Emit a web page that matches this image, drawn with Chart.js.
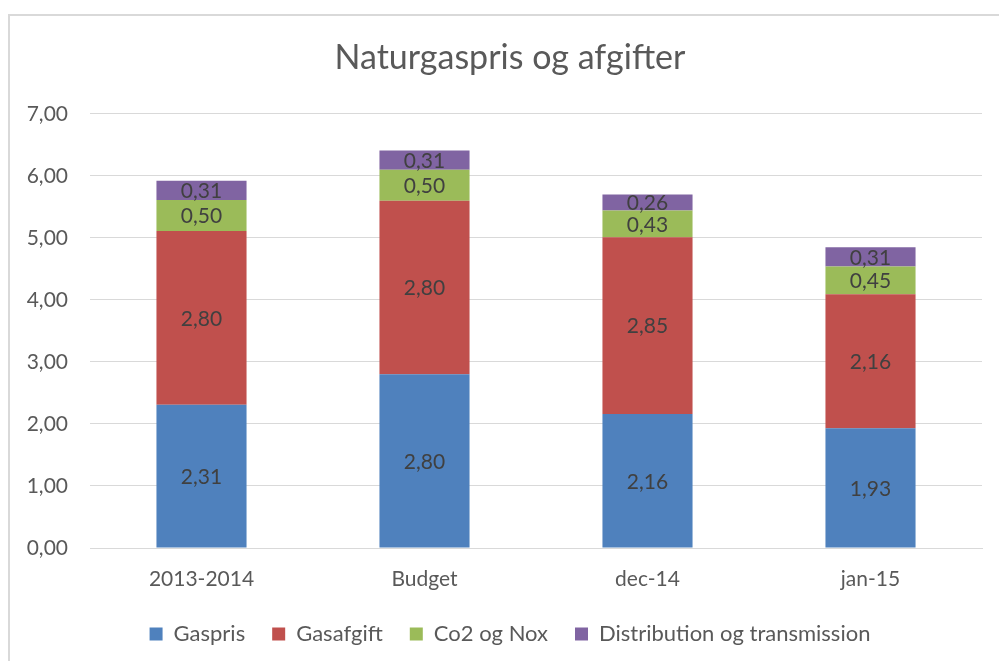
<!DOCTYPE html>
<html>
<head>
<meta charset="utf-8">
<script src="https://cdn.jsdelivr.net/npm/chart.js@4/dist/chart.umd.min.js"></script>
<style>
  html, body { margin: 0; padding: 0; background: #fff; }
  #wrap { width: 999px; height: 661px; }
</style>
</head>
<body>
<div id="wrap"><canvas id="chart" width="999" height="661"></canvas></div>
<script>
var categories = ['2013-2014', 'Budget', 'dec-14', 'jan-15'];
var gaspris = [2.31, 2.80, 2.16, 1.93];
var gasafgift = [2.80, 2.80, 2.85, 2.16];
var co2Nox = [0.50, 0.50, 0.43, 0.45];
var distribution = [0.31, 0.31, 0.26, 0.31];
var yTicks = [0, 1, 2, 3, 4, 5, 6, 7];

var FONT = 'Lato, "Open Sans", sans-serif';
var TEXT = '#595959';

function fmt(v) {
  return v.toFixed(2).replace('.', ',');
}

// frame round the chart, like the Excel chart border
var framePlugin = {
  id: 'frame',
  beforeDraw: function(chart) {
    var ctx = chart.ctx;
    ctx.save();
    ctx.strokeStyle = '#d9d9d9';
    ctx.lineWidth = 2;
    ctx.strokeRect(9, 15, chart.width + 20, chart.height + 20);
    ctx.restore();
  }
};

// Excel centres title and legend a bit right of the canvas middle
var centrePlugin = {
  id: 'centre',
  afterLayout: function(chart) {
    if (chart.titleBlock) chart.titleBlock.left += 30;
    if (chart.legend) chart.legend.left += 30;
  }
};

// values written in the middle of each segment
var labelPlugin = {
  id: 'segLabels',
  afterDatasetsDraw: function(chart) {
    var ctx = chart.ctx;
    ctx.save();
    ctx.font = '21px ' + FONT;
    ctx.fillStyle = '#404040';
    ctx.textAlign = 'center';
    ctx.textBaseline = 'middle';
    chart.data.datasets.forEach(function(ds, i) {
      var meta = chart.getDatasetMeta(i);
      if (meta.hidden) return;
      meta.data.forEach(function(el, j) {
        var p = el.getProps(['x', 'y', 'base'], true);
        ctx.fillText(fmt(ds.data[j]), p.x, (p.y + p.base) / 2 + 1);
      });
    });
    ctx.restore();
  }
};

new Chart(document.getElementById('chart'), {
  type: 'bar',
  data: {
    labels: categories,
    datasets: [
      { label: 'Gaspris', data: gaspris, backgroundColor: '#4F81BD' },
      { label: 'Gasafgift', data: gasafgift, backgroundColor: '#C0504D' },
      { label: 'Co2 og Nox', data: co2Nox, backgroundColor: '#9BBB59' },
      { label: 'Distribution og transmission', data: distribution, backgroundColor: '#8064A2' }
    ]
  },
  options: {
    responsive: false,
    animation: false,
    layout: { padding: { left: 8, right: 17, top: 14, bottom: 6 } },
    datasets: { bar: { categoryPercentage: 1, barPercentage: 0.404 } },
    plugins: {
      title: {
        display: true,
        text: 'Naturgaspris og afgifter',
        color: TEXT,
        font: { family: FONT, size: 34, weight: 'normal' },
        padding: { top: 24, bottom: 35 }
      },
      legend: {
        position: 'bottom',
        labels: {
          color: TEXT,
          font: { family: FONT, size: 22 },
          boxWidth: 13,
          boxHeight: 13,
          padding: 27
        }
      },
      tooltip: { enabled: false }
    },
    scales: {
      x: {
        stacked: true,
        grid: { display: false, drawTicks: false },
        border: { color: '#d9d9d9', width: 1 },
        ticks: { color: TEXT, font: { family: FONT, size: 21 }, padding: 19 },
        afterFit: function(s) { s.height = 48; }
      },
      y: {
        stacked: true,
        min: 0,
        max: 7,
        afterBuildTicks: function(s) {
          s.ticks = yTicks.map(function(v) { return { value: v }; });
        },
        grid: { color: '#d9d9d9', drawTicks: false },
        border: { display: false },
        ticks: {
          color: TEXT,
          font: { family: FONT, size: 21 },
          padding: 22,
          callback: function(v) { return fmt(v); }
        },
        afterFit: function(s) { s.width = 82; }
      }
    }
  },
  plugins: [framePlugin, centrePlugin, labelPlugin]
});
</script>
</body>
</html>
